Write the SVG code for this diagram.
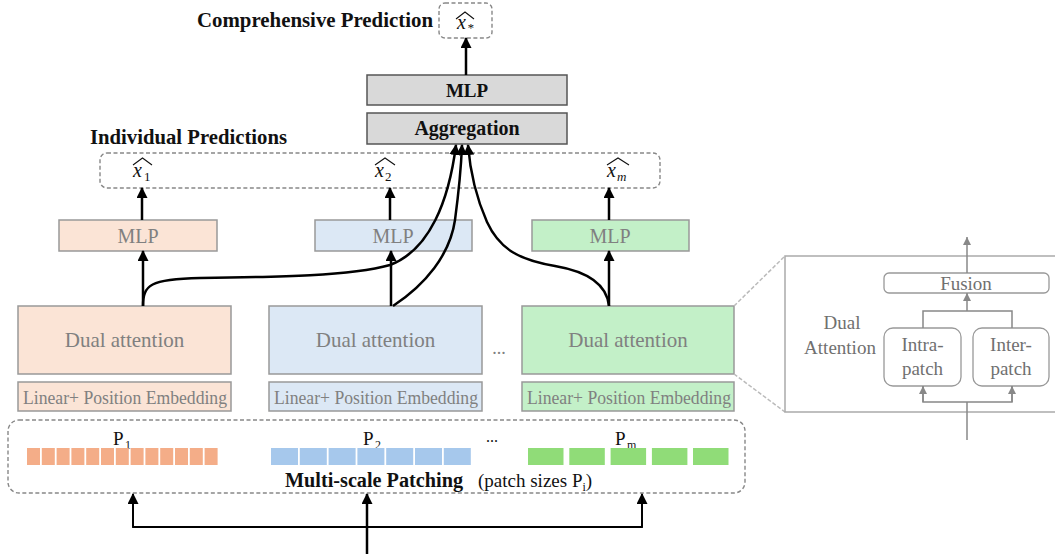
<svg xmlns="http://www.w3.org/2000/svg" width="1055" height="554" viewBox="0 0 1055 554">
<defs>
<marker id="ah" markerUnits="userSpaceOnUse" markerWidth="11" markerHeight="11" refX="10" refY="5.5" orient="auto">
<path d="M0,0 L11,5.5 L0,11 z" fill="#000"/>
</marker>
<marker id="ahg" markerUnits="userSpaceOnUse" markerWidth="8" markerHeight="8" refX="8" refY="4" orient="auto">
<path d="M0,0 L8,4 L0,8 z" fill="#888"/>
</marker>
</defs>
<style>
text{font-family:'Liberation Serif','Times New Roman','DejaVu Serif',serif;}
.bold{font-weight:bold;fill:#111;}
.ser{fill:#111;}
.gt{fill:#808080;}
.rt{fill:#707070;font-size:19px;}
.dash{fill:none;stroke:#888;stroke-width:1.4;stroke-dasharray:4 2.5;}
.gbox{fill:#d9d9d9;stroke:#555;stroke-width:1.5;}
.pink{fill:#fbe4d6;stroke:#999;stroke-width:1.5;}
.blue{fill:#dce8f5;stroke:#999;stroke-width:1.5;}
.green{fill:#c3f0c8;stroke:#999;stroke-width:1.5;}
.conn{fill:none;stroke:#000;stroke-width:2.5;}
.thin{fill:none;stroke:#000;stroke-width:1.8;}
.gl{fill:none;stroke:#888;stroke-width:1.5;}
.hat{fill:none;stroke:#111;stroke-width:1.1;}
.xi{font-style:italic;fill:#111;}
.sq1{fill:#f4ad88;}
.sq2{fill:#a6c8ec;}
.sq3{fill:#90dc78;}
</style>

<g id="comprehensive">
<text class="bold" x="197" y="27" font-size="20" textLength="236" lengthAdjust="spacingAndGlyphs">Comprehensive Prediction</text>
<rect class="dash" x="439" y="3" width="53" height="35" rx="6"/>
<text class="xi" x="457" y="29" font-size="20">x</text>
<text class="xi" x="467" y="32" font-size="13">*</text>
<polyline class="hat" points="456,19 465,12 474,19"/>
</g>

<g id="mlp-top">
<rect class="gbox" x="367" y="75" width="200" height="30"/>
<text class="bold" x="467" y="97" font-size="19" text-anchor="middle">MLP</text>
</g>
<g id="aggregation">
<rect class="gbox" x="367" y="113" width="200" height="31"/>
<text class="bold" x="467" y="135" font-size="20" text-anchor="middle">Aggregation</text>
</g>

<g id="individual">
<text class="bold" x="90" y="144" font-size="20" textLength="197" lengthAdjust="spacingAndGlyphs">Individual Predictions</text>
<rect class="dash" x="100" y="153" width="560" height="35" rx="7"/>
<text class="xi" x="133" y="177" font-size="20">x</text>
<text class="ser" x="144" y="181" font-size="13">1</text>
<polyline class="hat" points="133,165 142.5,158 152,165"/>
<text class="xi" x="375" y="177" font-size="20">x</text>
<text class="ser" x="385" y="181" font-size="13">2</text>
<polyline class="hat" points="375,165 385,158 395,165"/>
<text class="xi" x="607" y="177" font-size="20">x</text>
<text class="xi" x="617" y="181" font-size="13">m</text>
<polyline class="hat" points="607,165 618,158 629,165"/>
</g>

<g id="mlp1"><rect class="pink" x="59" y="220" width="158" height="31"/><text class="gt" x="138" y="243" font-size="20" text-anchor="middle">MLP</text></g>
<g id="mlp2"><rect class="blue" x="315" y="220" width="157" height="31"/><text class="gt" x="393" y="243" font-size="20" text-anchor="middle">MLP</text></g>
<g id="mlp3"><rect class="green" x="532" y="220" width="157" height="31"/><text class="gt" x="610" y="243" font-size="20" text-anchor="middle">MLP</text></g>

<g id="dual1"><rect class="pink" x="18" y="306" width="213" height="68"/><text class="gt" x="124.5" y="347" font-size="21" text-anchor="middle">Dual attention</text></g>
<g id="dual2"><rect class="blue" x="269" y="306" width="213" height="68"/><text class="gt" x="375.5" y="347" font-size="21" text-anchor="middle">Dual attention</text></g>
<g id="dual3"><rect class="green" x="522" y="306" width="212" height="68"/><text class="gt" x="628" y="347" font-size="21" text-anchor="middle">Dual attention</text></g>
<text class="gt" x="499" y="354" font-size="18" text-anchor="middle">...</text>

<g id="embed1"><rect class="pink" x="18" y="382" width="213" height="29"/><text class="gt" x="23" y="404" font-size="18" textLength="204" lengthAdjust="spacingAndGlyphs">Linear+ Position Embedding</text></g>
<g id="embed2"><rect class="blue" x="269" y="382" width="213" height="29"/><text class="gt" x="274" y="404" font-size="18" textLength="204" lengthAdjust="spacingAndGlyphs">Linear+ Position Embedding</text></g>
<g id="embed3"><rect class="green" x="522" y="382" width="212" height="29"/><text class="gt" x="527" y="404" font-size="18" textLength="204" lengthAdjust="spacingAndGlyphs">Linear+ Position Embedding</text></g>

<g id="patching">
<rect class="dash" x="8" y="420" width="737" height="73" rx="11"/>
<text class="ser" x="113" y="445" font-size="19">P</text><text class="ser" x="125" y="449" font-size="12">1</text>
<text class="ser" x="363" y="445" font-size="19">P</text><text class="ser" x="375" y="449" font-size="12">2</text>
<text class="ser" x="492" y="442" font-size="16" text-anchor="middle">...</text>
<text class="ser" x="615" y="445" font-size="19">P</text><text class="ser" x="627" y="449" font-size="12">m</text>
<g class="sq1">
<rect x="27" y="448" width="13" height="17"/><rect x="41.8" y="448" width="13" height="17"/><rect x="56.6" y="448" width="13" height="17"/><rect x="71.4" y="448" width="13" height="17"/><rect x="86.2" y="448" width="13" height="17"/><rect x="101" y="448" width="13" height="17"/><rect x="115.8" y="448" width="13" height="17"/><rect x="130.6" y="448" width="13" height="17"/><rect x="145.4" y="448" width="13" height="17"/><rect x="160.2" y="448" width="13" height="17"/><rect x="175" y="448" width="13" height="17"/><rect x="189.8" y="448" width="13" height="17"/><rect x="204.6" y="448" width="13" height="17"/>
</g>
<g class="sq2">
<rect x="271" y="448" width="27" height="17"/><rect x="299.8" y="448" width="27" height="17"/><rect x="328.6" y="448" width="27" height="17"/><rect x="357.4" y="448" width="27" height="17"/><rect x="386.2" y="448" width="27" height="17"/><rect x="415" y="448" width="27" height="17"/><rect x="443.8" y="448" width="27" height="17"/>
</g>
<g class="sq3">
<rect x="528" y="448" width="35.5" height="17"/><rect x="569.3" y="448" width="35.5" height="17"/><rect x="610.6" y="448" width="35.5" height="17"/><rect x="651.9" y="448" width="35.5" height="17"/><rect x="693" y="448" width="35.5" height="17"/>
</g>
<text class="bold" x="285" y="487" font-size="20" textLength="178" lengthAdjust="spacingAndGlyphs">Multi-scale Patching</text>
<text class="ser" x="478" y="487" font-size="19">(patch sizes  P<tspan font-size="12" dy="4">i</tspan><tspan dy="-4">)</tspan></text>
</g>

<g id="connectors">
<line class="conn" x1="466" y1="75" x2="466" y2="38" marker-end="url(#ah)"/>
<line class="conn" x1="142" y1="220" x2="142" y2="188" marker-end="url(#ah)"/>
<line class="conn" x1="390" y1="220" x2="390" y2="188" marker-end="url(#ah)"/>
<line class="conn" x1="609" y1="220" x2="609" y2="188" marker-end="url(#ah)"/>
<line class="conn" x1="143" y1="306" x2="143" y2="251" marker-end="url(#ah)"/>
<line class="conn" x1="391" y1="306" x2="391" y2="251" marker-end="url(#ah)"/>
<line class="conn" x1="609" y1="306" x2="609" y2="251" marker-end="url(#ah)"/>
<path class="conn" d="M143,306 C143,285 150,279 200,278 C280,277 350,276 390,265 C430,250 449,200 456,145" marker-end="url(#ah)"/>
<path class="conn" d="M393,306 C425,285 450,255 455,220 C459,190 461,170 462,145" marker-end="url(#ah)"/>
<path class="conn" d="M609,306 C607,285 590,272 555,266 C520,260 500,250 487,222 C475,195 470,170 468,145" marker-end="url(#ah)"/>
<line class="conn" x1="367" y1="554" x2="367" y2="494" marker-end="url(#ah)"/>
<polyline class="thin" points="133,494 133,527 642,527 642,494"/>
<line class="thin" x1="133" y1="527" x2="133" y2="494" marker-end="url(#ah)"/>
<line class="thin" x1="642" y1="527" x2="642" y2="494" marker-end="url(#ah)"/>
<line x1="734" y1="306" x2="785" y2="256" stroke="#bbb" stroke-width="1.5" stroke-dasharray="4 2"/>
<line x1="734" y1="374" x2="785" y2="412" stroke="#bbb" stroke-width="1.5" stroke-dasharray="4 2"/>
</g>

<g id="dual-attention-detail">
<rect x="785" y="256" width="280" height="156" fill="#fff" stroke="#aaa" stroke-width="1.5"/>
<text class="rt" x="842" y="329" text-anchor="middle">Dual</text>
<text class="rt" x="840" y="354" text-anchor="middle">Attention</text>
<g id="fusion"><rect x="884" y="273" width="165" height="20" rx="5" fill="#fff" stroke="#999" stroke-width="1.3"/><text class="rt" x="966" y="290" text-anchor="middle">Fusion</text></g>
<g id="intra"><rect x="884" y="328" width="77" height="58" rx="9" fill="#fff" stroke="#999" stroke-width="1.3"/><text class="rt" x="922.5" y="351" text-anchor="middle">Intra-</text><text class="rt" x="922.5" y="375" text-anchor="middle">patch</text></g>
<g id="inter"><rect x="973" y="328" width="76" height="58" rx="9" fill="#fff" stroke="#999" stroke-width="1.3"/><text class="rt" x="1011" y="351" text-anchor="middle">Inter-</text><text class="rt" x="1011" y="375" text-anchor="middle">patch</text></g>
<g id="detail-connectors">
<line class="gl" x1="967" y1="273" x2="967" y2="237" marker-end="url(#ahg)"/>
<polyline class="gl" points="923,328 923,311 1012,311 1012,328"/>
<line class="gl" x1="967" y1="311" x2="967" y2="293" marker-end="url(#ahg)"/>
<line class="gl" x1="967" y1="440" x2="967" y2="402"/>
<polyline class="gl" points="923,386 923,402 1012,402 1012,386"/>
<line class="gl" x1="923" y1="402" x2="923" y2="386" marker-end="url(#ahg)"/>
<line class="gl" x1="1012" y1="402" x2="1012" y2="386" marker-end="url(#ahg)"/>
</g>
</g>
</svg>
